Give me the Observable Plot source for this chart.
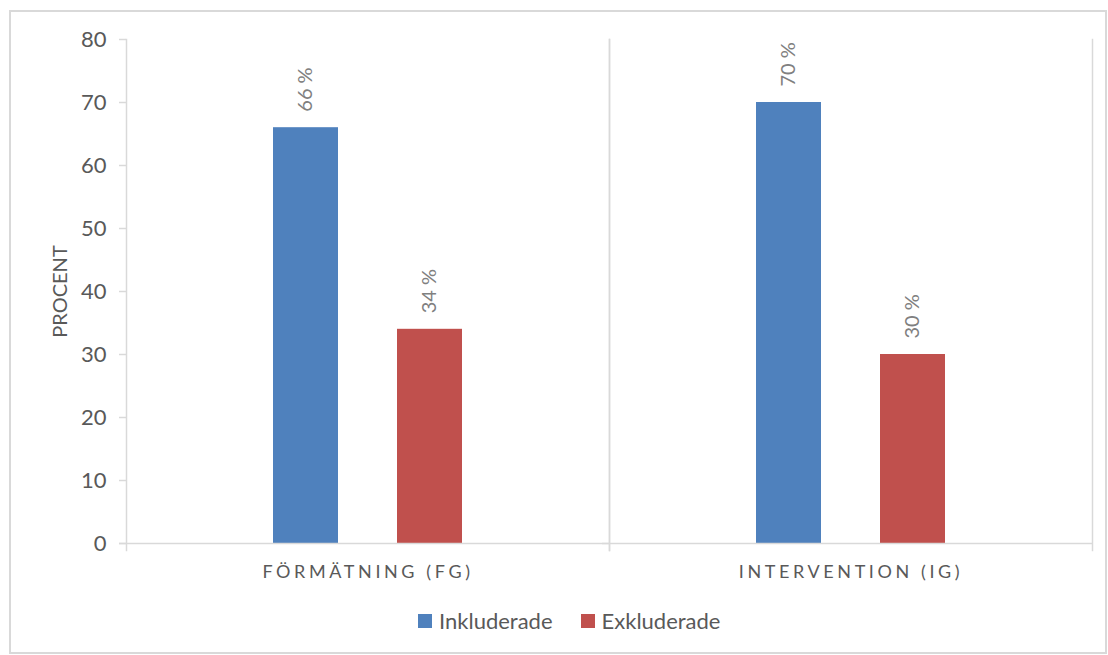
<!DOCTYPE html>
<html>
<head>
<meta charset="utf-8">
<script src="https://cdn.jsdelivr.net/npm/d3@7"></script>
<script src="https://cdn.jsdelivr.net/npm/@observablehq/plot@0.6"></script>
<style>
  html, body { margin: 0; padding: 0; background: #fff; }
  #chart { position: relative; width: 1108px; height: 655px; font-family: Lato, "Open Sans", sans-serif; }
  #border { position: absolute; left: 9px; top: 10px; right: 1px; bottom: 1px; border: 2px solid #d9d9d9; box-sizing: border-box; }
  #plot { position: absolute; left: 0; top: 0; }
  #legend { position: absolute; left: 418px; top: 607px; display: flex; align-items: center; font-size: 22px; color: #595959; }
  #legend .sw { width: 14px; height: 14px; display: inline-block; margin-right: 7px; }
  #legend .item { display: flex; align-items: center; margin-right: 28px; }
  [aria-label="fx-axis tick label"] text { letter-spacing: 3.6px; }
  [aria-label="y-axis label"] text { font-size: 20px; }
</style>
</head>
<body>
<div id="chart">
  <div id="border"></div>
  <div id="plot"></div>
  <div id="legend"></div>
</div>
<script>
// Groups along the bottom and the two series shown in each group
const groups = ["FÖRMÄTNING (FG)", "INTERVENTION (IG)"];
const series = ["Inkluderade", "Exkluderade"];
const colors = ["#4F81BD", "#C0504D"];
const inkluderade = [66, 70];
const exkluderade = [34, 30];
const yTicks = [0, 10, 20, 30, 40, 50, 60, 70, 80];

const rows = groups.flatMap((g, i) => [
  {group: g, serie: series[0], value: inkluderade[i]},
  {group: g, serie: series[1], value: exkluderade[i]}
]);

const grid = "#d9d9d9";
const ink = "#595959";

const plot = Plot.plot({
  width: 1108,
  height: 600,
  marginTop: 39,
  marginBottom: 57,
  marginLeft: 125,
  marginRight: 16,
  style: {fontFamily: "Lato, 'Open Sans', sans-serif", background: "transparent"},
  fx: {domain: groups, padding: 0, label: null},
  x: {domain: series, paddingInner: 0.472, paddingOuter: 1.176, axis: null},
  y: {domain: [0, 80], ticks: yTicks, label: null},
  color: {domain: series, range: colors},
  marks: [
    Plot.frame({anchor: "left", stroke: grid, strokeWidth: 1.5, insetBottom: -7}),
    Plot.frame({anchor: "right", stroke: grid, strokeWidth: 1.5, insetBottom: -7}),
    Plot.barY(rows, {fx: "group", x: "serie", y: "value", fill: "serie"}),
    Plot.ruleY([0], {stroke: grid, strokeWidth: 1.5, insetLeft: -7}),
    Plot.text(rows, {
      fx: "group", x: "serie", y: "value",
      text: d => `${d.value} %`,
      rotate: -90, textAnchor: "start", lineAnchor: "middle",
      dy: -16, fontSize: 20, fill: "#808080"
    }),
    Plot.axisY({
      ticks: yTicks, tickSize: 7, tickPadding: 13, stroke: grid, strokeWidth: 1.5,
      fontSize: 22, color: ink,
      label: "PROCENT", labelArrow: "none", labelAnchor: "center", labelOffset: 74
    }),
    Plot.axisFx({anchor: "bottom", tickSize: 0, tickPadding: 22, fontSize: 18, color: ink, label: null})
  ]
});
document.getElementById("plot").appendChild(plot);

// Legend below the plot
const legend = document.getElementById("legend");
series.forEach((s, i) => {
  const item = document.createElement("span");
  item.className = "item";
  item.innerHTML = `<span class="sw" style="background:${colors[i]}"></span>${s}`;
  legend.appendChild(item);
});
</script>
</body>
</html>
